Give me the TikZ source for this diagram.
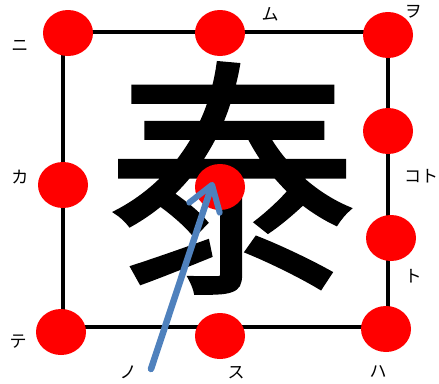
\documentclass[tikz,border=0pt]{standalone}
\usepackage{fontspec}
\newfontfamily\jp{Noto Sans CJK JP}
\newfontfamily\jpk{Noto Sans CJK JP}[FakeBold=1.5]
\usetikzlibrary{shapes.geometric,arrows.meta}
\definecolor{arrowblue}{HTML}{4F81BD}
\tikzset{
  dot/.style={ellipse, fill=red, draw=none, minimum width=50pt, minimum height=46pt, inner sep=0pt},
  lbl/.style={font=\jp\fontsize{17}{17}\selectfont, inner sep=0pt},
  edge/.style={line width=4pt, black},
  pointer/.style={line width=6.5pt, arrowblue, line cap=round, line join=round,
    -{Straight Barb[length=24pt, width=32pt, line width=6pt, round]}}
}
\begin{document}
\begin{tikzpicture}[x=1pt, y=-1pt]
\useasboundingbox[fill=white] (0,0) rectangle (439,383);
% dot positions
\coordinate (pTL) at (68,33);
\coordinate (pTM) at (220,33);
\coordinate (pTR) at (388,35);
\coordinate (pRU) at (388,131);
\coordinate (pRL) at (391,238);
\coordinate (pLM) at (63,185);
\coordinate (pC)  at (220,187);
\coordinate (pBL) at (61,332);
\coordinate (pBM) at (220,336);
\coordinate (pBR) at (386,329);
% square edges
\draw[edge] (63,32) -- (388,32) -- (388,327) -- (63,327) -- cycle;
% kanji
\node[inner sep=0pt, font=\jpk\fontsize{250}{250}\selectfont] (kanji) at (232,178) {泰};
% dots
\foreach \n in {TL,TM,TR,RU,RL,LM,C,BL,BM,BR}
  \node[dot] (\n) at (p\n) {};
% arrow
\coordinate (tail) at (151,369);
\draw[pointer] (tail) -- ([xshift=-7pt,yshift=5pt]C.center);
% labels
\node[lbl] (l1) at (20,46) {ニ};
\node[lbl] (l2) at (270,14) {ム};
\node[lbl] (l3) at (413,12) {ヲ};
\node[lbl] (l4) at (20,177) {カ};
\node[lbl, anchor=west] (l5) at (404,176) {コト};
\node[lbl] (l6) at (413,276) {ト};
\node[lbl] (l7) at (18,342) {テ};
\node[lbl] (l8) at (128,372) {ノ};
\node[lbl] (l9) at (236,373) {ス};
\node[lbl] (l10) at (378,372) {ハ};
\end{tikzpicture}
\end{document}
